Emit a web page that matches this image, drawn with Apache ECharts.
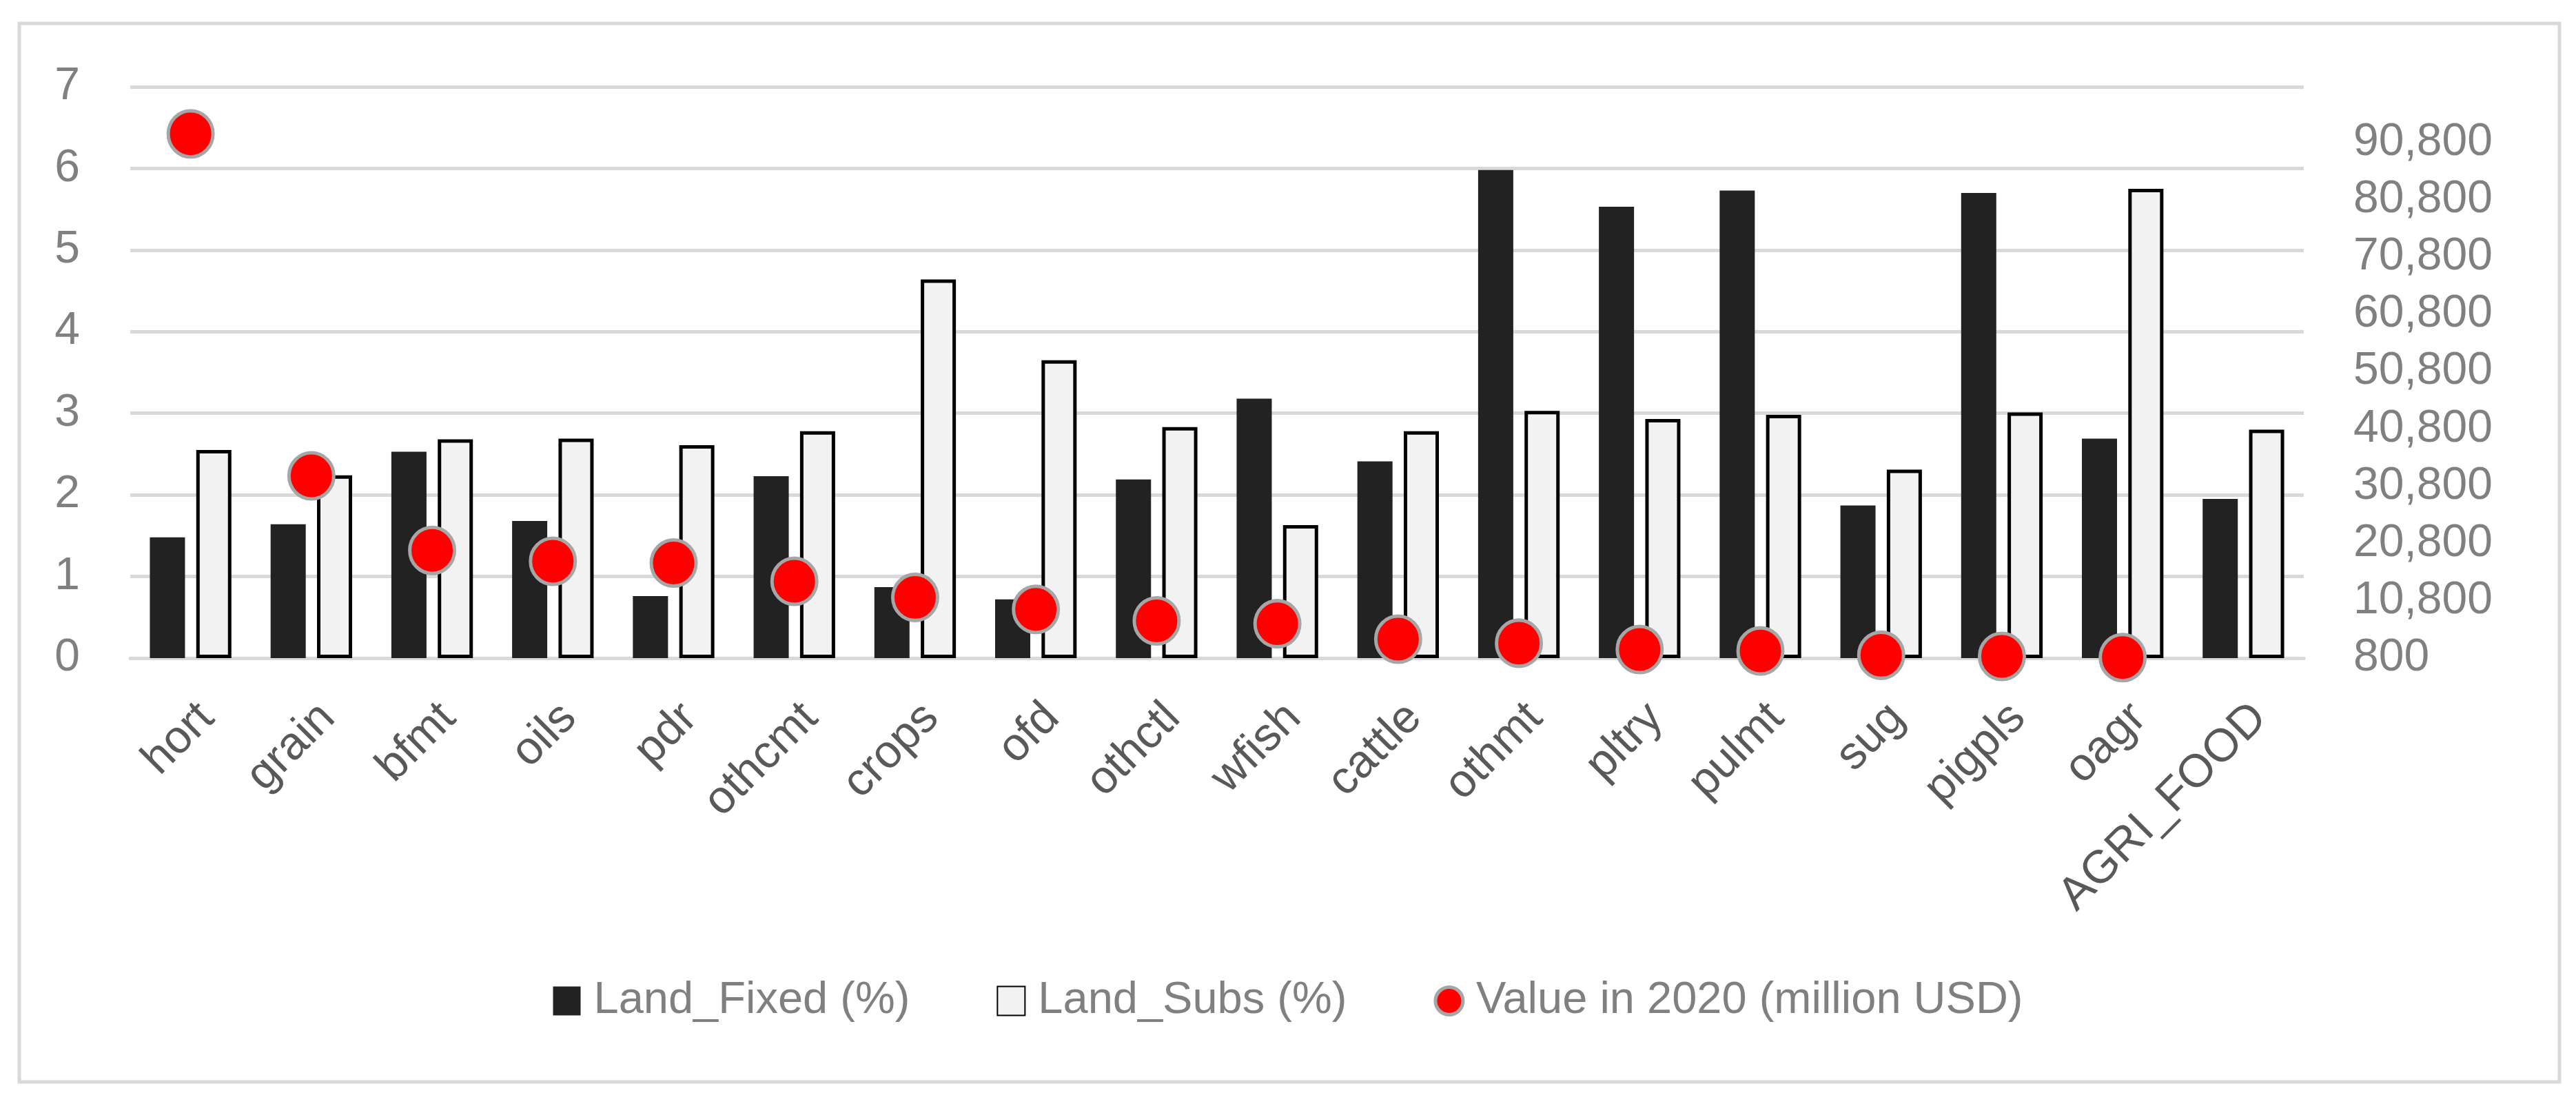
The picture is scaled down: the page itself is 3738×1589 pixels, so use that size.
<!DOCTYPE html>
<html>
<head>
<meta charset="utf-8">
<script src="https://cdn.jsdelivr.net/npm/echarts@6/dist/echarts.min.js"></script>
<style>
  html, body { margin: 0; padding: 0; background: #fff; }
  #chart { width: 3738px; height: 1589px; }
</style>
</head>
<body>
<div id="chart"></div>
<script>
// data
const categories = ['hort', 'grain', 'bfmt', 'oils', 'pdr', 'othcmt', 'crops', 'ofd', 'othctl',
    'wfish', 'cattle', 'othmt', 'pltry', 'pulmt', 'sug', 'pigpls', 'oagr', 'AGRI_FOOD'];
const landFixed = [1.48, 1.64, 2.53, 1.68, 0.76, 2.23, 0.87, 0.72, 2.19, 3.18, 2.41, 5.98, 5.53, 5.73, 1.87, 5.70, 2.69, 1.95];
const landSubs = [2.55, 2.24, 2.68, 2.69, 2.61, 2.78, 4.64, 3.65, 2.83, 1.63, 2.78, 3.03, 2.93, 2.98, 2.31, 3.01, 5.75, 2.80];
const value2020 = [92300, 32600, 19600, 17700, 17400, 14200, 11400, 9300, 7300, 6800, 4100, 3400, 2300, 2050, 1300, 1100, 900, null];

const font = '"Liberation Sans", Arial, sans-serif';

const chart = echarts.init(document.getElementById('chart'));

const option = {
    backgroundColor: '#ffffff',
    animation: false,
    graphic: [{
        type: 'rect',
        shape: { x: 28, y: 34, width: 3686, height: 1536 },
        style: { fill: 'none', stroke: '#d9d9d9', lineWidth: 5 },
        silent: true
    }],
    grid: { left: 189, right: 395, top: 126, bottom: 634 },
    legend: {
        bottom: 99,
        left: 'center',
        itemWidth: 40,
        itemHeight: 42,
        itemGap: 126,
        textStyle: { fontFamily: font, fontSize: 65, color: '#808080', padding: [0, 0, 0, 14] },
        data: [
            { name: 'Land_Fixed (%)', icon: 'rect' },
            { name: 'Land_Subs (%)', icon: 'rect' },
            { name: 'Value in 2020 (million USD)', icon: 'circle',
              itemStyle: { color: '#ff0000', borderColor: '#a6a6a6', borderWidth: 5 } }
        ]
    },
    xAxis: {
        type: 'category',
        data: categories,
        axisTick: { show: false },
        axisLine: { lineStyle: { color: '#d9d9d9', width: 5 } },
        axisLabel: {
            interval: 0,
            rotate: 45,
            margin: 53,
            verticalAlign: 'top',
            fontFamily: font,
            fontSize: 67,
            color: '#595959'
        }
    },
    yAxis: [{
        type: 'value',
        min: 0,
        max: 7,
        interval: 1,
        axisLine: { show: false },
        axisTick: { show: false },
        splitLine: { lineStyle: { color: '#d9d9d9', width: 5 } },
        axisLabel: { margin: 73, fontFamily: font, fontSize: 66, color: '#808080' }
    }, {
        type: 'value',
        min: 800,
        max: 100500,
        interval: 10000,
        axisLine: { show: false },
        axisTick: { show: false },
        splitLine: { show: false },
        axisLabel: {
            margin: 72,
            showMaxLabel: false,
            fontFamily: font,
            fontSize: 66,
            color: '#808080',
            formatter: v => v.toLocaleString('en-US')
        }
    }],
    series: [{
        name: 'Land_Fixed (%)',
        type: 'bar',
        barWidth: 51,
        barGap: '32%',
        itemStyle: { color: '#222222' },
        data: landFixed
    }, {
        name: 'Land_Subs (%)',
        type: 'bar',
        barWidth: 51,
        itemStyle: { color: '#f2f2f2', borderColor: '#000000', borderWidth: 5 },
        data: landSubs
    }, {
        name: 'Value in 2020 (million USD)',
        type: 'scatter',
        yAxisIndex: 1,
        symbol: 'circle',
        symbolSize: [65, 67],
        itemStyle: { color: '#ff0000', borderColor: '#a6a6a6', borderWidth: 5, opacity: 1 },
        data: value2020
    }]
};

chart.setOption(option);
</script>
</body>
</html>
